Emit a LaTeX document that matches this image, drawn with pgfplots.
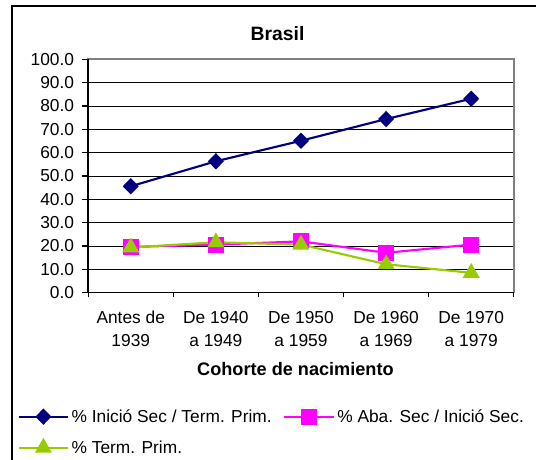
\documentclass[border=0pt]{standalone}
\usepackage{pgfplots}
\pgfplotsset{compat=1.18}
\usepackage{fontspec}
\setmainfont{Liberation Sans}
\definecolor{navyb}{HTML}{000080}
\definecolor{magb}{HTML}{FF00FF}
\definecolor{grnb}{HTML}{99CC00}
\begin{document}
\begin{tikzpicture}
\useasboundingbox (-66.15pt,-125.475pt) rectangle (335.85pt,219.525pt);
\draw[black,line width=1.1pt] (-57.15pt,-140pt) -- (-57.15pt,215pt) -- (350pt,215pt);
\begin{axis}[
  at={(0,0)}, anchor=south west,
  scale only axis, width=319.2pt, height=175.05pt,
  xmin=0.5, xmax=5.5, ymin=0, ymax=100,
  xtick={1,2,3,4,5},
  xticklabels={{Antes de\\1939},{De 1940\\a 1949},{De 1950\\a 1959},{De 1960\\a 1969},{De 1970\\a 1979}},
  major x tick style={draw=none},
  minor xtick={0.5,1.5,2.5,3.5,4.5,5.5},
  minor x tick style={black, line width=0.8pt},
  ytick={0,10,...,100},
  y tick style={black, line width=0.8pt},
  tick align=outside, tick pos=left,
  major tick length=4.5pt, minor tick length=3.5pt,
  ymajorgrids, grid style={black, line width=0.6pt},
  axis line style={draw=gray, line width=1.2pt},
  yticklabel style={/pgf/number format/.cd, fixed, fixed zerofill, precision=1, assume math mode=true, /tikz/.cd, xshift=-2.6pt},
  ticklabel style={font=\fontsize{13}{17}\selectfont},
  xticklabel style={align=center, font=\fontsize{13}{17}\selectfont, yshift=-6pt},
  xlabel={\textbf{Cohorte de nacimiento}},
  xlabel style={at={(rel axis cs:0.487,-0.327)}, anchor=center, font=\fontsize{13.6}{15}\selectfont},
  legend columns=2, legend cell align=left,
  legend style={draw=none, fill=none, at={(rel axis cs:-0.166,-0.487)}, anchor=north west,
    font=\fontsize{13}{15}\selectfont, /tikz/every even column/.append style={column sep=6.8pt},
    row sep=8.3pt, inner sep=0pt},
  legend image code/.code={\draw[#1, mark repeat=2, mark phase=2] plot coordinates {(0pt,0pt) (18.4pt,0pt) (36.8pt,0pt)};},
  clip=false,
]
\addplot[navyb, line width=1.6pt, mark=diamond*, mark size=5pt, mark options={xscale=1.3, solid, fill=navyb}]
  coordinates {(1,45.6) (2,56.3) (3,65.1) (4,74.4) (5,83.1)};
\addlegendentry{\% Inició Sec / Term. Prim.}
\addplot[magb, line width=1.6pt, mark=square*, mark size=5.2pt, mark options={solid, fill=magb}]
  coordinates {(1,19.6) (2,20.6) (3,22.0) (4,17.1) (5,20.6)};
\addlegendentry{\% Aba. Sec / Inició Sec.}
\addplot[grnb, line width=1.6pt, mark=triangle*, mark size=5.8pt, mark options={solid, fill=grnb}]
  coordinates {(1,19.4) (2,21.6) (3,20.6) (4,12.2) (5,8.5)};
\addlegendentry{\% Term. Prim.}
\draw[black, line width=1.2pt] (rel axis cs:0,1) -- (rel axis cs:0,0) -- (rel axis cs:1,0);
\node[font=\fontsize{14.5}{15}\selectfont\bfseries] at (rel axis cs:0.445,1.111) {Brasil};
\end{axis}
\end{tikzpicture}
\end{document}
